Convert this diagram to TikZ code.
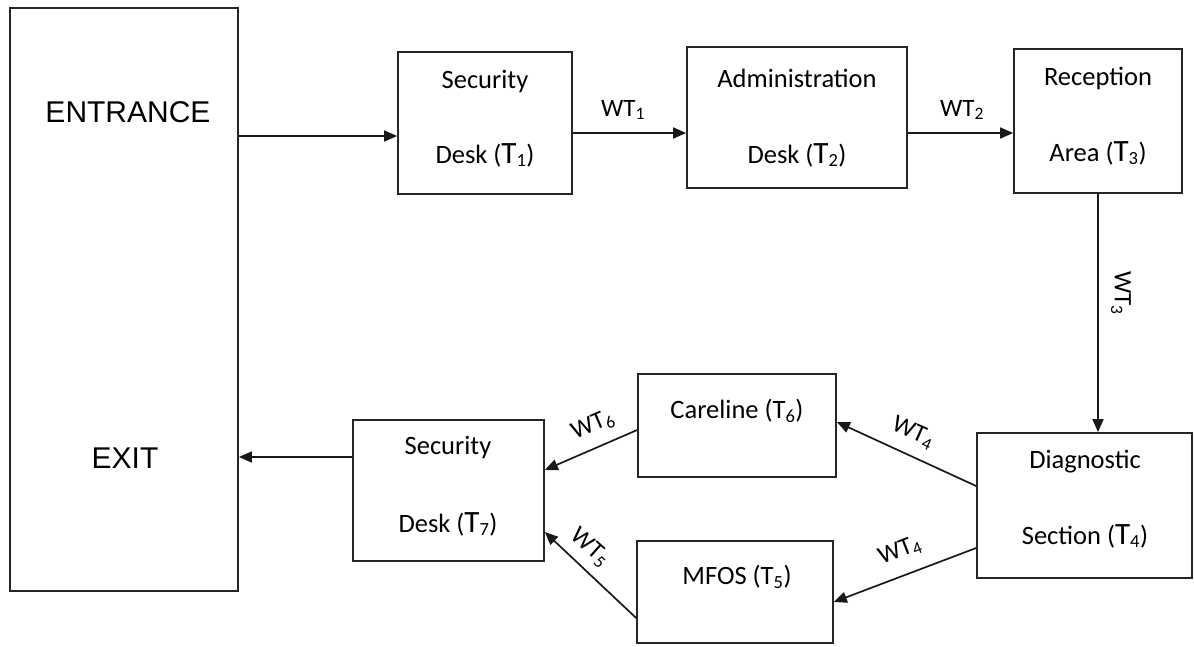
\documentclass[tikz,border=0pt]{standalone}
\usepackage{fontspec}
\setmainfont{Carlito}
\newfontfamily\arialfont{Liberation Sans}
\usetikzlibrary{arrows.meta,calc}
\newcommand{\BigT}[1]{{\fontsize{31}{31}\selectfont T}\textsubscript{#1}}
\tikzset{
  box/.style={draw=black!85, line width=1.7pt, minimum width=#1, inner sep=0pt},
  txt/.style={font=\fontsize{26.5}{30}\selectfont, inner sep=0pt},
  wt/.style={font=\fontsize{25}{28}\selectfont, inner sep=0pt},
  big/.style={font=\arialfont\fontsize{30}{34}\selectfont, inner sep=0pt},
  arr/.style={line width=1.7pt, draw=black!90, -{Triangle[length=13pt,width=11pt]}}
}
\begin{document}
\begin{tikzpicture}[x=1pt,y=-1pt]
\useasboundingbox (0,0) rectangle (1194,646);
% boxes
\node[box=228pt, minimum height=583pt] (big) at (124,299.5) {};
\node[box=174pt, minimum height=142pt] (s1) at (485,123) {};
\node[box=220pt, minimum height=141pt] (adm) at (797,117.5) {};
\node[box=168pt, minimum height=144pt] (rec) at (1098,121) {};
\node[box=215pt, minimum height=145pt] (diag) at (1084.5,505.5) {};
\node[box=198pt, minimum height=103pt] (care) at (737,425.5) {};
\node[box=196pt, minimum height=102pt] (mfos) at (735,592) {};
\node[box=191pt, minimum height=141pt] (s7) at (448.5,490.5) {};
% texts
\node[big] (tent) at (128,112) {ENTRANCE};
\node[big] (texit) at (125,458) {EXIT};
\node[txt] (s1a) at (485,82) {Security};
\node[txt] (s1b) at (485,155) {Desk (\BigT{1})};
\node[txt] (adma) at (797,78) {Administration};
\node[txt] (admb) at (797,155) {Desk (\BigT{2})};
\node[txt] (reca) at (1098,78) {Reception};
\node[txt] (recb) at (1098,153) {Area (\BigT{3})};
\node[txt] (diaga) at (1085,462) {Diagnostic};
\node[txt] (diagb) at (1085,536) {Section (\BigT{4})};
\node[txt] (carea) at (737,411) {Careline (T\textsubscript{6})};
\node[txt] (mfosa) at (737,577) {MFOS (T\textsubscript{5})};
\node[txt] (s7a) at (448,448) {Security};
\node[txt] (s7b) at (448,524) {Desk (\BigT{7})};
% connectors
\draw[arr] (big.east |- 0,136) -- (s1.west |- 0,136);
\draw[arr] (s1.east |- 0,133) -- (adm.west |- 0,133);
\draw[arr] (adm.east |- 0,133) -- (rec.west |- 0,133);
\draw[arr] (rec.south) -- (rec.south |- diag.north);
\draw[arr] (diag.west |- 0,486) -- (care.east |- 0,422);
\draw[arr] (diag.west |- 0,548) -- (mfos.east |- 0,602);
\draw[arr] (care.west |- 0,430) -- (s7.east |- 0,470);
\draw[arr] (mfos.west |- 0,618) -- (s7.east |- 0,532);
\draw[arr] (s7.west |- 0,457) -- (big.east |- 0,457);
% labels
\node[wt] (l1) at (623,110) {WT\textsubscript{1}};
\node[wt] (l2) at (962,110) {WT\textsubscript{2}};
\node[wt, rotate=-90] (l3) at (1121,293) {WT\textsubscript{3}};
\node[wt, rotate=-24] (l4a) at (913,433) {WT\textsubscript{4}};
\node[wt, rotate=21] (l4b) at (900,551) {WT\textsubscript{4}};
\node[wt, rotate=23] (l6) at (593,425) {WT\textsubscript{6}};
\node[wt, rotate=-42] (l5) at (590,548) {WT\textsubscript{5}};
\end{tikzpicture}
\end{document}
